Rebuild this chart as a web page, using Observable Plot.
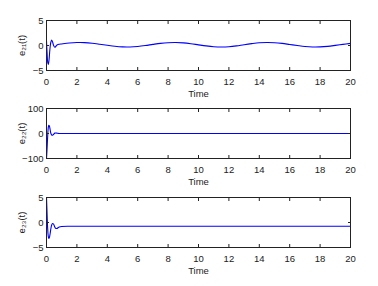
<!DOCTYPE html>
<html><head><meta charset="utf-8">
<script src="https://cdn.jsdelivr.net/npm/d3@7"></script>
<script src="https://cdn.jsdelivr.net/npm/@observablehq/plot@0.6"></script>
<style>
body{margin:0;background:#fff;}
#c{position:relative;width:378px;height:286px;background:#fff;overflow:hidden;}
#c > div{position:absolute;left:0;}
</style></head><body><div id="c"></div>
<script>
const xTicks = [0,2,4,6,8,10,12,14,16,18,20];

const t21 = [0,0.04,0.08,0.12,0.17,0.22,0.28,0.34,0.4,0.47,0.55,0.63,0.72,0.85,1,1.5,2,2.5,3,3.5,4,4.5,5,5.5,6,6.5,7,7.5,8,8.5,9,9.5,10,10.5,11,11.5,12,12.5,13,13.5,14,14.5,15,15.5,16,16.5,17,17.5,18,18.5,19,19.5,20];
const e21 = [0.9,-1.5,-3.4,-3.8,-2.8,-0.9,0.6,1.1,0.7,0.0,-0.35,-0.1,0.15,0.25,0.31,0.49,0.59,0.58,0.46,0.26,0.04,-0.16,-0.28,-0.29,-0.19,-0.01,0.22,0.43,0.56,0.6,0.52,0.35,0.13,-0.08,-0.24,-0.3,-0.25,-0.08,0.16,0.37,0.54,0.6,0.56,0.42,0.21,0.0,-0.19,-0.29,-0.28,-0.17,0.02,0.23,0.43];

const t22 = [0,0.03,0.07,0.11,0.15,0.19,0.24,0.29,0.34,0.4,0.47,0.55,0.63,0.72,0.85,1,1.5,2,4,6,8,10,12,14,16,18,20];
const e22 = [-100,-70,-20,20,33,30,15,0,-6,-7,-3,1.5,2,0.8,0,0,0,0,0,0,0,0,0,0,0,0,0];

const t23 = [0,0.03,0.07,0.11,0.15,0.19,0.24,0.29,0.34,0.4,0.46,0.53,0.6,0.68,0.78,0.9,1,1.5,2,4,6,8,10,12,14,16,18,20];
const e23 = [5,2.5,-0.8,-2.6,-3.2,-3.0,-2.2,-1.2,-0.5,-0.2,-0.3,-0.8,-1.15,-1.2,-1.0,-0.85,-0.8,-0.76,-0.75,-0.75,-0.75,-0.75,-0.74,-0.74,-0.75,-0.75,-0.75,-0.75];

const panels = [
  {t:t21, v:e21, dom:[-5,5], yt:[-5,0,5], label:"e₂₁(t)", top:0},
  {t:t22, v:e22, dom:[-100,100], yt:[-100,0,100], label:"e₂₂(t)", top:88},
  {t:t23, v:e23, dom:[-5,5], yt:[-5,0,5], label:"e₂₃(t)", top:177}
];

const c = document.getElementById("c");
for (const p of panels) {
  const data = p.t.map((t,i)=>({t, v:p.v[i]}));
  const chart = Plot.plot({
    width: 378, height: 100,
    marginLeft: 46, marginRight: 28, marginTop: 20, marginBottom: 30,
    style: {fontFamily: "Liberation Sans, Arial, sans-serif", fontSize: "9px", color: "#222", background: "transparent"},
    x: {domain:[0,20]},
    y: {domain:p.dom},
    marks: [
      Plot.line(data, {x:"t", y:"v", stroke:"#0000ff", strokeWidth:1.1, curve:"catmull-rom"}),
      Plot.axisX(xTicks, {anchor:"bottom", tickSize:-3, tickPadding:11, label:"Time", labelAnchor:"center", labelArrow:"none", labelOffset:26, fontSize:9.5}),
      Plot.axisX(xTicks, {anchor:"top", tickSize:-3, tickFormat:()=>"", label:null}),
      Plot.axisY(p.yt, {anchor:"left", tickSize:-3, tickPadding:6, label:p.label, labelAnchor:"center", labelArrow:"none", labelOffset:28, fontSize:9.5}),
      Plot.axisY(p.yt, {anchor:"right", tickSize:-3, tickFormat:()=>"", label:null}),
      Plot.frame({stroke:"#222"})
    ]
  });
  const wrap = document.createElement("div");
  wrap.style.top = p.top + "px";
  wrap.appendChild(chart);
  c.appendChild(wrap);
}
</script></body></html>
